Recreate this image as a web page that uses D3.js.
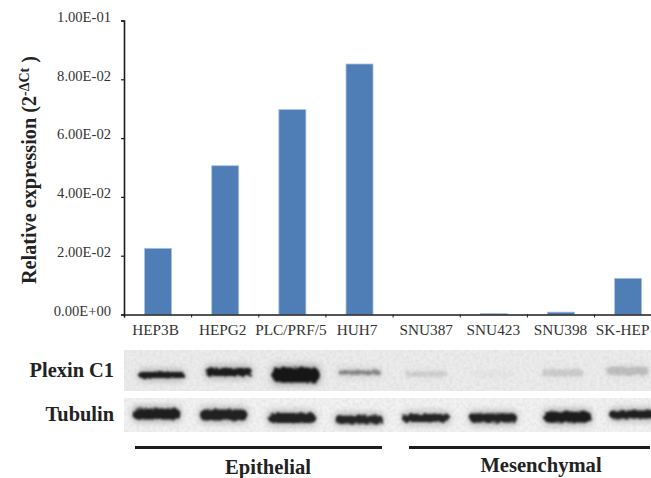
<!DOCTYPE html>
<html>
<head>
<meta charset="utf-8">
<script src="https://cdn.jsdelivr.net/npm/d3@7"></script>
<style>
  html, body { margin: 0; padding: 0; background: #fff; overflow: hidden; }
  text { font-family: "Liberation Serif", serif; }
</style>
</head>
<body>
<script>
// chart values
const cellLines = ["HEP3B", "HEPG2", "PLC/PRF/5", "HUH7", "SNU387", "SNU423", "SNU398", "SK-HEP"];
const expression = [0.0225, 0.0506, 0.0697, 0.0852, 0, 0.0003, 0.0008, 0.0123];
const yTickValues = [0, 0.02, 0.04, 0.06, 0.08, 0.1];
const yTickLabels = ["0.00E+00", "2.00E-02", "4.00E-02", "6.00E-02", "8.00E-02", "1.00E-01"];

// band strength per lane, 0..1, estimated from the blot
const plexinLevels = [0.66, 0.74, 1, 0.3, 0.07, 0.015, 0.08, 0.12];
const tubulinLevels = [0.95, 0.93, 0.92, 0.9, 0.9, 0.92, 0.96, 0.94];

const groupNames = ["Epithelial", "Mesenchymal"];

const width = 651, height = 478;
const margin = {top: 20.5, left: 124, bottom: 163.5};
const bandStep = 67.15;

const svg = d3.select("body").append("svg")
  .attr("width", width)
  .attr("height", height)
  .style("display", "block");

const defs = svg.append("defs");

// bands get a rough edge, then a blur
const soft = defs.append("filter").attr("id", "soft").attr("x", "-20%").attr("y", "-80%").attr("width", "140%").attr("height", "260%");
soft.append("feTurbulence").attr("type", "fractalNoise").attr("baseFrequency", 0.22).attr("numOctaves", 2).attr("seed", 7).attr("result", "n");
soft.append("feDisplacementMap").attr("in", "SourceGraphic").attr("in2", "n").attr("scale", 4).attr("result", "d");
soft.append("feGaussianBlur").attr("in", "d").attr("stdDeviation", 1.2);

defs.append("filter").attr("id", "softer").attr("x", "-30%").attr("y", "-150%").attr("width", "160%").attr("height", "400%")
  .append("feGaussianBlur").attr("stdDeviation", 3.2);

const grain = defs.append("filter").attr("id", "grain").attr("x", 0).attr("y", 0).attr("width", "100%").attr("height", "100%");
grain.append("feTurbulence").attr("type", "fractalNoise").attr("baseFrequency", 0.3).attr("numOctaves", 2).attr("seed", 4);
grain.append("feColorMatrix").attr("type", "matrix")
  .attr("values", "0 0 0 0 0.55  0 0 0 0 0.55  0 0 0 0 0.55  0.55 0 0 0 -0.19");

// scales
const x = d3.scaleBand()
  .domain(cellLines)
  .range([margin.left, margin.left + bandStep * cellLines.length]);
const xEdges = d3.scaleLinear()
  .domain([0, cellLines.length])
  .range(x.range());
const y = d3.scaleLinear()
  .domain([0, 0.1])
  .range([height - margin.bottom, margin.top]);

const barWidth = 27;

// bars
svg.append("g").selectAll("rect")
  .data(cellLines)
  .enter().append("rect")
  .attr("x", d => x(d) + x.bandwidth() / 2 - barWidth / 2 + 0.5)
  .attr("y", (d, i) => y(expression[i]))
  .attr("width", barWidth)
  .attr("height", (d, i) => y(0) - y(expression[i]))
  .style("fill", "#4f7db6")
  .style("stroke", "#a9c1de")
  .style("stroke-width", 0.8);

// y axis
const yAxis = svg.append("g")
  .attr("transform", "translate(" + margin.left + ",0)")
  .call(d3.axisLeft(y)
    .tickValues(yTickValues)
    .tickSize(3)
    .tickFormat((d, i) => yTickLabels[i]));
yAxis.select(".domain").style("stroke", "#1c1c1c").style("stroke-width", 1.6);
yAxis.selectAll("line").style("stroke", "#1c1c1c").style("stroke-width", 1.2);
yAxis.selectAll("text")
  .attr("x", -13)
  .attr("dy", "0.05em")
  .style("font-family", "Liberation Serif")
  .style("font-size", "14.6px")
  .style("fill", "#333");

// x axis, tick marks sit between the lanes
const xTicks = svg.append("g")
  .attr("transform", "translate(0," + y(0) + ")")
  .call(d3.axisBottom(xEdges).ticks(cellLines.length).tickSize(3).tickFormat(""));
xTicks.select(".domain").style("stroke", "#1c1c1c").style("stroke-width", 1.6);
xTicks.selectAll("line").style("stroke", "#1c1c1c").style("stroke-width", 1);

const labelNudge = [-2, -2, -1, -2, 0, 0, 0, -5];
const xLabels = svg.append("g")
  .attr("transform", "translate(0," + y(0) + ")")
  .call(d3.axisBottom(x).tickSize(0));
xLabels.select(".domain").remove();
xLabels.selectAll("text")
  .attr("x", (d, i) => labelNudge[i])
  .attr("y", 10)
  .style("font-family", "Liberation Serif")
  .style("font-size", "15.3px")
  .style("fill", "#333");

// y title
const yTitle = svg.append("text")
  .attr("transform", "translate(36,284) rotate(-90)")
  .style("font-size", "20.2px")
  .style("font-weight", "bold")
  .style("fill", "#222");
yTitle.append("tspan").text("Relative expression (2");
yTitle.append("tspan").attr("dy", -7).style("font-size", "14px").text("-ΔCt");
yTitle.append("tspan").attr("dy", 7).text("  )");

// western blot panels
const panels = [
  {
    name: "Plexin C1", levels: plexinLevels, top: 350, size: 41, fill: "#ececec", centre: 22.5,
    thickness: d3.scaleLinear().domain([0, 0.3, 0.66, 1]).range([5, 4, 6, 15]),
    darkness: d3.scaleLinear().domain([0, 0.3, 0.66, 1]).range([0, 0.42, 0.95, 1]),
    xNudge: [4, 4, 4, 0, 0, 0, 2, 0], yNudge: [2.5, -0.5, 2.5, 0, 1.5, 1.5, 0.5, -1.5],
    sizeNudge: [0, 0, 0, 0, 1, 1, 2, 4]
  },
  {
    name: "Tubulin", levels: tubulinLevels, top: 398, size: 34, fill: "#f2f2f2", centre: 18.5,
    thickness: d3.scaleLinear().domain([0, 1]).range([4, 10.5]),
    darkness: d3.scaleLinear().domain([0, 1]).range([0, 1]),
    xNudge: [-1, -1, 0, 0, 0, 0, 7, 6], yNudge: [-2.5, -1.5, 1.5, 3, 1.5, 1.5, 0.5, -2],
    sizeNudge: [1, 1, 0, -2, -2, -1, 1, -2]
  }
];
const laneWidth = d3.scaleLinear().domain([0, 1]).range([41, 48]);

panels.forEach(p => {
  const g = svg.append("g");
  g.append("rect")
    .attr("x", margin.left).attr("y", p.top)
    .attr("width", width - margin.left).attr("height", p.size)
    .style("fill", p.fill);
  g.append("rect")
    .attr("x", margin.left).attr("y", p.top)
    .attr("width", width - margin.left).attr("height", p.size)
    .attr("filter", "url(#grain)");

  const clip = "clip-" + p.top;
  defs.append("clipPath").attr("id", clip).append("rect")
    .attr("x", margin.left).attr("y", p.top)
    .attr("width", width - margin.left).attr("height", p.size);
  const lanes = g.append("g").attr("clip-path", "url(#" + clip + ")");

  const bandX = i => x(cellLines[i]) + x.bandwidth() / 2 + p.xNudge[i];
  const bandH = (d, i) => p.thickness(d) + p.sizeNudge[i];

  // halo round each band
  lanes.selectAll(".halo")
    .data(p.levels)
    .enter().append("rect")
    .attr("class", "halo")
    .attr("x", (d, i) => bandX(i) - laneWidth(d) / 2 - 1)
    .attr("y", (d, i) => p.top + p.centre + p.yNudge[i] - bandH(d, i) / 2 - 3)
    .attr("width", d => laneWidth(d) + 2)
    .attr("height", (d, i) => bandH(d, i) + 6)
    .attr("rx", 6)
    .attr("filter", "url(#softer)")
    .style("fill", "#8a8a8a")
    .style("opacity", d => p.darkness(d) * 0.6);

  // the band itself
  lanes.selectAll(".band")
    .data(p.levels)
    .enter().append("rect")
    .attr("class", "band")
    .attr("x", (d, i) => bandX(i) - laneWidth(d) / 2)
    .attr("y", (d, i) => p.top + p.centre + p.yNudge[i] - bandH(d, i) / 2)
    .attr("width", laneWidth)
    .attr("height", bandH)
    .attr("rx", (d, i) => bandH(d, i) / 2)
    .attr("filter", "url(#soft)")
    .style("fill", "#141414")
    .style("opacity", p.darkness);

  g.append("text")
    .attr("x", 114)
    .attr("y", p.top + p.size / 2 + 6)
    .attr("text-anchor", "end")
    .style("font-size", "20.4px")
    .style("font-weight", "bold")
    .style("fill", "#222")
    .text(p.name);
});

// group rules and names
const ruleStart = [135, 409];
const ruleEnd = [382, 650];
const nameBaseline = [474, 471.5];
const nameCentre = [268, 541];

const groups = svg.append("g").selectAll("g")
  .data(groupNames)
  .enter().append("g");
groups.append("line")
  .attr("x1", (d, i) => ruleStart[i])
  .attr("x2", (d, i) => ruleEnd[i])
  .attr("y1", 447.5)
  .attr("y2", 447.5)
  .style("stroke", "#1c1c1c")
  .style("stroke-width", 3);
groups.append("text")
  .attr("x", (d, i) => nameCentre[i])
  .attr("y", (d, i) => nameBaseline[i])
  .attr("text-anchor", "middle")
  .style("font-size", "20.6px")
  .style("font-weight", "bold")
  .style("fill", "#222")
  .text(d => d);
</script>
</body>
</html>
